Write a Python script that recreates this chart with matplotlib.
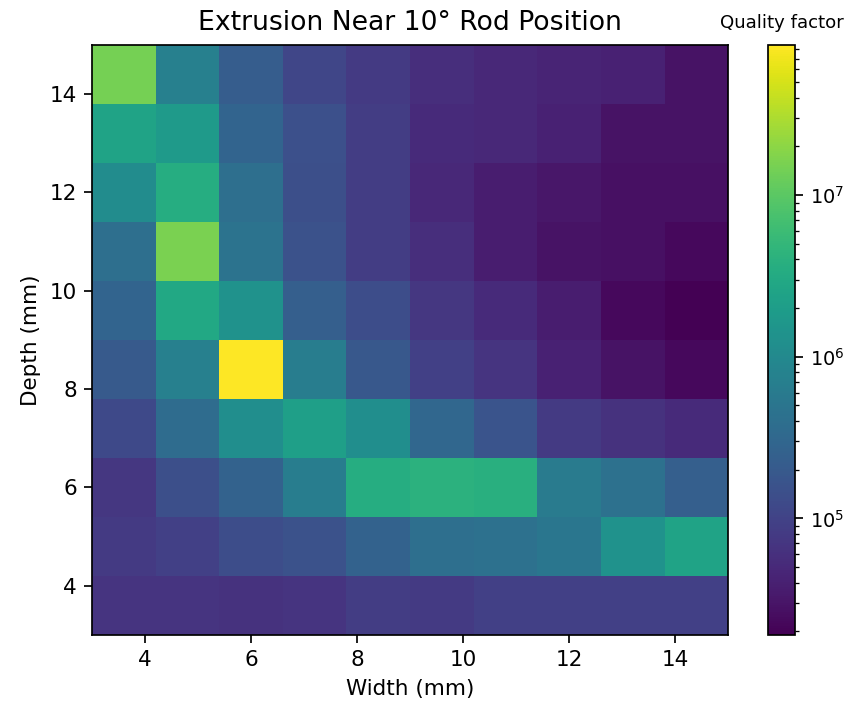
import matplotlib
matplotlib.use("Agg")
import matplotlib.pyplot as plt
import numpy as np
from matplotlib.colors import LogNorm

# grid of width / depth cell edges (mm)
width_edges = np.linspace(3, 15, 11)
depth_edges = np.linspace(3, 15, 11)

# quality factor per cell, rows from shallow (depth 3.6) to deep (depth 14.4)
q_d36 = [6.7e4, 6.7e4, 6.2e4, 6.7e4, 8.6e4, 8.0e4, 9.4e4, 9.4e4, 9.4e4, 9.4e4]
q_d48 = [8.0e4, 9.4e4, 1.32e5, 1.56e5, 2.58e5, 3.9e5, 4.3e5, 5.1e5, 1.39e6, 2.5e6]
q_d60 = [7.3e4, 1.43e5, 2.58e5, 6.5e5, 3.5e6, 4.1e6, 3.8e6, 6.0e5, 4.3e5, 2.37e5]
q_d72 = [1.21e5, 3.6e5, 1.17e6, 2.1e6, 1.17e6, 3.05e5, 1.69e5, 8.0e4, 6.2e4, 5.2e4]
q_d84 = [2.0e5, 7.1e5, 8.5e7, 6.5e5, 1.84e5, 9.4e4, 6.7e4, 4.06e4, 2.9e4, 2.25e4]
q_d96 = [2.8e5, 2.95e6, 1.39e6, 2.37e5, 1.32e5, 7.3e4, 5.2e4, 3.73e4, 2.25e4, 1.9e4]
q_d108 = [3.9e5, 1.58e7, 4.6e5, 1.56e5, 8.6e4, 5.7e4, 3.73e4, 2.9e4, 2.67e4, 2.25e4]
q_d120 = [1.08e6, 3.5e6, 3.9e5, 1.43e5, 8.6e4, 4.8e4, 3.73e4, 3.16e4, 2.67e4, 2.67e4]
q_d132 = [2.5e6, 1.78e6, 2.8e5, 1.49e5, 8.6e4, 5.2e4, 4.8e4, 4.06e4, 2.9e4, 2.9e4]
q_d144 = [1.46e7, 7.1e5, 2.18e5, 1.11e5, 8.0e4, 5.7e4, 4.8e4, 4.42e4, 4.06e4, 2.9e4]

quality = np.array([q_d36, q_d48, q_d60, q_d72, q_d84,
                    q_d96, q_d108, q_d120, q_d132, q_d144])

# small figure rendered at high dpi -> 846x705 px
fig = plt.figure(figsize=(846 / 155, 705 / 155), dpi=155)
ax = fig.add_axes([0.1087, 0.0993, 0.752, 0.837])
cax = fig.add_axes([0.908, 0.0993, 0.032, 0.837])

mesh = ax.pcolormesh(width_edges, depth_edges, quality, cmap='viridis',
                     norm=LogNorm(vmin=quality.min(), vmax=quality.max()))

ax.set_xlim(3, 15)
ax.set_ylim(3, 15)
ax.set_title('Extrusion Near 10° Rod Position', fontsize=12.4, pad=7)
ax.set_xlabel('Width (mm)')
ax.set_ylabel('Depth (mm)')

cb = fig.colorbar(mesh, cax=cax)
cb.ax.tick_params(labelsize=9)
cax.set_title('Quality factor', fontsize=8.4, pad=8)

fig.savefig('out.png', dpi=155)
